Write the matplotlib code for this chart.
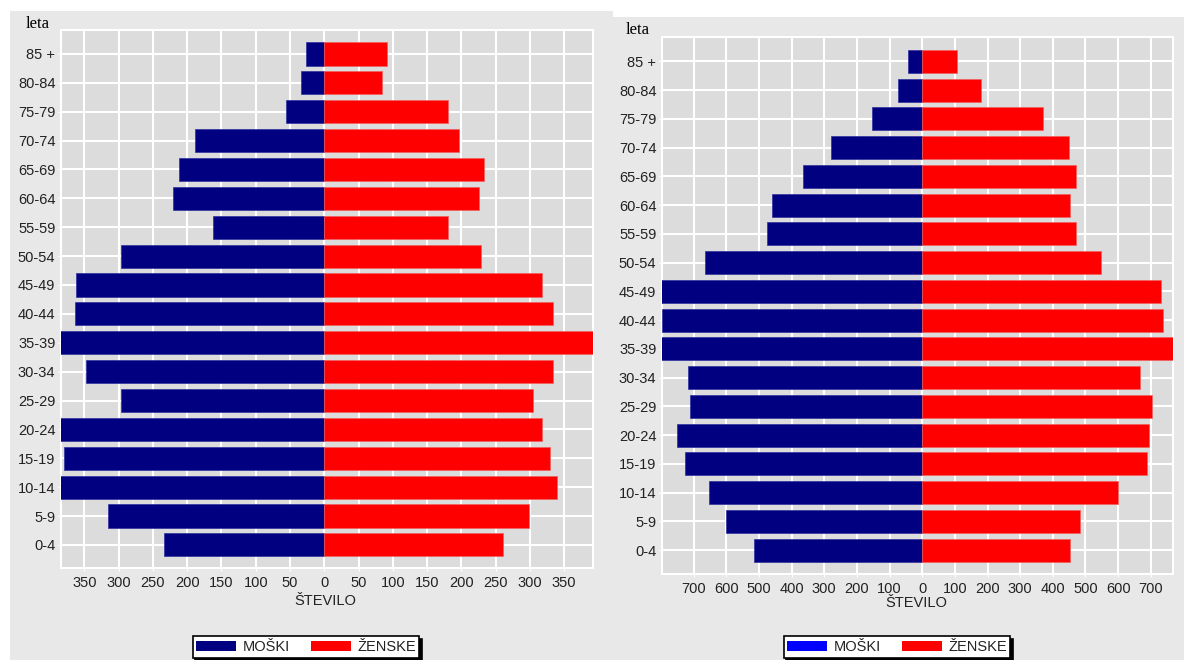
import matplotlib.pyplot as plt
from matplotlib.patches import Rectangle, Patch

age_groups = ["0-4", "5-9", "10-14", "15-19", "20-24", "25-29", "30-34", "35-39",
              "40-44", "45-49", "50-54", "55-59", "60-64", "65-69", "70-74", "75-79",
              "80-84", "85 +"]

# left pyramid (bars past the edge are clipped in the original, values estimated)
left_men = [234, 316, 390, 380, 388, 296, 347, 395, 364, 362, 296, 162, 220, 212, 188, 56, 34, 26]
left_women = [260, 298, 339, 329, 317, 305, 333, 400, 333, 317, 229, 180, 225, 233, 197, 180, 84, 92]

# right pyramid
right_men = [515, 600, 654, 726, 751, 710, 718, 810, 798, 800, 666, 474, 459, 365, 280, 155, 73, 45]
right_women = [454, 483, 600, 688, 696, 704, 668, 780, 736, 732, 547, 470, 454, 470, 450, 370, 181, 108]

left_ticks = [-350, -300, -250, -200, -150, -100, -50, 0, 50, 100, 150, 200, 250, 300, 350]
right_ticks = [-700, -600, -500, -400, -300, -200, -100, 0, 100, 200, 300, 400, 500, 600, 700]

NAVY = "#000080"
RED = "#ff0000"
PANEL = "#e8e8e8"
PLOT_BG = "#dcdcdc"
TXT = "#222222"
FONT = "Liberation Sans"

W, H = 1184, 660
fig = plt.figure(figsize=(W / 100, H / 100), dpi=100, facecolor="white")

# grey panel backgrounds (pixel boxes -> figure fractions)
def px_rect(x0, y0, x1, y1):
    return (x0 / W, 1 - y1 / H, (x1 - x0) / W, (y1 - y0) / H)

for box in [px_rect(10, 11, 613, 660), px_rect(613, 17, 1184, 660)]:
    fig.patches.append(Rectangle(box[:2], box[2], box[3], transform=fig.transFigure,
                                 facecolor=PANEL, edgecolor="none", zorder=-10))


def draw_pyramid(ax, men, women, ticks, xlim, ylim, legend_center, legend_men_color):
    y = list(range(len(age_groups)))
    ax.set_facecolor(PLOT_BG)
    ax.barh(y, [-v for v in men], height=0.8, color=NAVY, edgecolor="#3030a0", linewidth=0.5, zorder=3)
    ax.barh(y, women, height=0.8, color=RED, edgecolor="#f06060", linewidth=0.5, zorder=3)
    ax.set_xlim(*xlim)
    ax.set_ylim(*ylim)
    ax.set_xticks(ticks)
    ax.set_xticklabels([str(abs(t)) for t in ticks], fontsize=10.5, color=TXT, family=FONT)
    ax.set_yticks(y)
    ax.set_yticklabels(age_groups, fontsize=10.5, color=TXT, family=FONT)
    ax.grid(True, color="white", linewidth=1.5, zorder=1)
    ax.set_axisbelow(True)
    for s in ax.spines.values():
        s.set_color("white")
        s.set_linewidth(1.5)
    ax.tick_params(axis="x", length=2, color="white", pad=4)
    ax.tick_params(axis="y", length=2, color="white", pad=2)

    handles = [Patch(facecolor=legend_men_color, edgecolor="none", label="MOŠKI"),
               Patch(facecolor=RED, edgecolor="none", label="ŽENSKE")]
    leg = ax.legend(handles=handles, loc="center", ncol=2,
                    bbox_to_anchor=(legend_center[0] / W, 1 - legend_center[1] / H),
                    bbox_transform=fig.transFigure, frameon=True, fancybox=False,
                    shadow={"facecolor": "black", "edgecolor": "black", "alpha": 1},
                    edgecolor="black", framealpha=1, borderpad=0.25,
                    handlelength=2.75, handleheight=0.75, handletextpad=0.45,
                    columnspacing=1.4, prop={"family": FONT, "size": 10.5})
    leg.get_frame().set_linewidth(1.2)
    for t in leg.get_texts():
        t.set_color(TXT)


ax1 = fig.add_axes(px_rect(61, 30, 593, 568))
draw_pyramid(ax1, left_men, left_women, left_ticks, (-384, 392), (-0.80, 17.83), (306, 647), NAVY)

ax2 = fig.add_axes(px_rect(662, 37, 1173, 574))
draw_pyramid(ax2, right_men, right_women, right_ticks, (-797, 768), (-0.83, 17.85), (897, 647), "#0000ff")

# axis titles
fig.text(38 / W, 1 - 24 / H, "leta", ha="center", va="center", fontsize=12,
         family="Liberation Serif", color="black")
fig.text(638 / W, 1 - 30 / H, "leta", ha="center", va="center", fontsize=12,
         family="Liberation Serif", color="black")
fig.text(325 / W, 1 - 601 / H, "ŠTEVILO", ha="center", va="center", fontsize=10.5,
         family=FONT, color=TXT)
fig.text(916 / W, 1 - 603 / H, "ŠTEVILO", ha="center", va="center", fontsize=10.5,
         family=FONT, color=TXT)

fig.savefig("out.png", dpi=100, facecolor="white")
